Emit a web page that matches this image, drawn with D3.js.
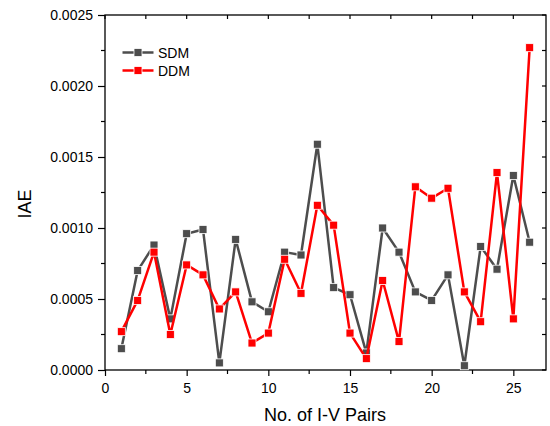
<!DOCTYPE html>
<html>
<head>
<meta charset="utf-8">
<script src="https://cdn.jsdelivr.net/npm/d3@7"></script>
<style>
	body { margin:0; background:#fff; }
	text { font-family: "Liberation Sans", Arial, sans-serif; fill:#000; }
</style>
</head>
<body>
<div id="chart"></div>
<script>

//data
const pairs = [1,2,3,4,5,6,7,8,9,10,11,12,13,14,15,16,17,18,19,20,21,22,23,24,25,26];
const sdm = [0.00015,0.00070,0.00088,0.00036,0.00096,0.00099,0.00005,0.00092,0.00048,0.00041,
	0.00083,0.00081,0.00159,0.00058,0.00053,0.00012,0.00100,0.00083,0.00055,0.00049,
	0.00067,0.00003,0.00087,0.00071,0.00137,0.00090];
const ddm = [0.00027,0.00049,0.00083,0.00025,0.00074,0.00067,0.00043,0.00055,0.00019,0.00026,
	0.00078,0.00054,0.00116,0.00102,0.00026,0.00008,0.00063,0.00020,0.00129,0.00121,
	0.00128,0.00055,0.00034,0.00139,0.00036,0.00227];
const xTicks = [0,5,10,15,20,25];
const yTicks = [0,0.0005,0.0010,0.0015,0.0020,0.0025];
const seriesNames = ["SDM","DDM"];
const seriesColors = ["#4d4d4d","#ff0000"];

//sizing
let width = 550;
let height = 426;
let margin = {top:15, right:4, bottom:56, left:105};

let svg = d3.select("#chart")
	.append("svg")
	.attr("width", width)
	.attr("height", height);

const xScale = d3.scaleLinear()
	.domain([0,27])
	.range([margin.left, width-margin.right]);

const yScale = d3.scaleLinear()
	.domain([0,0.0025])
	.range([height-margin.bottom, margin.top]);

const x0 = xScale.range()[0], x1 = xScale.range()[1];
const y0 = yScale.range()[0], y1 = yScale.range()[1];

//minor ticks
const xMinor = d3.range(2.5, 27, 5);
const yMinor = d3.range(0.00025, 0.0025, 0.0005);

//bottom axis
const xAxis = d3.axisBottom(xScale)
	.tickValues(xTicks)
	.tickSize(6)
	.tickSizeOuter(0)
	.tickPadding(7)
	.tickFormat(d3.format("d"));

let gx = svg.append("g")
	.attr("class","axis x_axis")
	.attr("transform", `translate(0,${y0})`)
	.call(xAxis);

//left axis
const yAxis = d3.axisLeft(yScale)
	.tickValues(yTicks)
	.tickSize(7)
	.tickSizeOuter(0)
	.tickPadding(5)
	.tickFormat(d3.format(".4f"));

let gy = svg.append("g")
	.attr("class","axis y_axis")
	.attr("transform", `translate(${x0},0)`)
	.call(yAxis);

svg.selectAll(".axis text")
	.style("font-size","14px")
	.style("font-family", "'Liberation Sans', Arial, sans-serif");
svg.selectAll(".axis line").attr("stroke","#000").attr("stroke-width",1.2);
svg.selectAll(".axis .domain").remove();

//minor ticks bottom/left
svg.append("g").selectAll("line")
	.data(xMinor).enter().append("line")
	.attr("x1", d=>xScale(d)).attr("x2", d=>xScale(d))
	.attr("y1", y0).attr("y2", y0+4)
	.attr("stroke","#000").attr("stroke-width",1.2);

svg.append("g").selectAll("line")
	.data(yMinor).enter().append("line")
	.attr("x1", x0-4).attr("x2", x0)
	.attr("y1", d=>yScale(d)).attr("y2", d=>yScale(d))
	.attr("stroke","#000").attr("stroke-width",1.2);

//top & right ticks (inward)
svg.append("g").selectAll("line")
	.data(xTicks.concat(xMinor)).enter().append("line")
	.attr("x1", d=>xScale(d)).attr("x2", d=>xScale(d))
	.attr("y1", y1).attr("y2", y1+4)
	.attr("stroke","#000").attr("stroke-width",1.2);

svg.append("g").selectAll("line")
	.data(yTicks.concat(yMinor)).enter().append("line")
	.attr("x1", x1-4).attr("x2", x1)
	.attr("y1", d=>yScale(d)).attr("y2", d=>yScale(d))
	.attr("stroke","#000").attr("stroke-width",1.2);

//frame
svg.append("rect")
	.attr("x", x0).attr("y", y1)
	.attr("width", x1-x0).attr("height", y0-y1)
	.attr("fill","none")
	.attr("stroke","#000")
	.attr("stroke-width",1.3);

//lines
const allSeries = [sdm, ddm];

allSeries.forEach((vals, k)=>{
	let line = d3.line()
		.x((d,i)=>xScale(pairs[i]))
		.y((d)=>yScale(d));

	svg.append("path")
		.datum(vals)
		.attr("class","line")
		.attr("fill","none")
		.attr("stroke", seriesColors[k])
		.attr("stroke-width",2.5)
		.attr("stroke-linejoin","round")
		.attr("d", line);

	svg.append("g").selectAll("rect")
		.data(vals).enter().append("rect")
		.attr("x", (d,i)=>xScale(pairs[i])-4)
		.attr("y", d=>yScale(d)-4)
		.attr("width",8).attr("height",8)
		.attr("fill", seriesColors[k])
		.attr("stroke","#fff")
		.attr("stroke-width",0.8);
});

//legend
let legend = svg.selectAll(".legend")
	.data(seriesNames).enter()
	.append("g")
	.attr("class","legend")
	.attr("transform",(d,i)=>`translate(0,${52.5+i*18})`);

legend.append("line")
	.attr("x1",122.5).attr("x2",153.5)
	.attr("y1",0).attr("y2",0)
	.attr("stroke",(d,i)=>seriesColors[i])
	.attr("stroke-width",2.5);

legend.append("rect")
	.attr("x",134).attr("y",-4)
	.attr("width",8).attr("height",8)
	.attr("fill",(d,i)=>seriesColors[i])
	.attr("stroke","#fff")
	.attr("stroke-width",0.8);

legend.append("text")
	.attr("x",158).attr("y",0)
	.attr("dy","0.36em")
	.style("font-size","14px")
	.text(d=>d);

//axis titles
svg.append("text")
	.attr("x", 325)
	.attr("y", 421)
	.attr("text-anchor","middle")
	.style("font-size","18px")
	.text("No. of I-V Pairs");

svg.append("text")
	.attr("transform","translate(31,204) rotate(-90)")
	.attr("text-anchor","middle")
	.style("font-size","18px")
	.text("IAE");

</script>
</body>
</html>
